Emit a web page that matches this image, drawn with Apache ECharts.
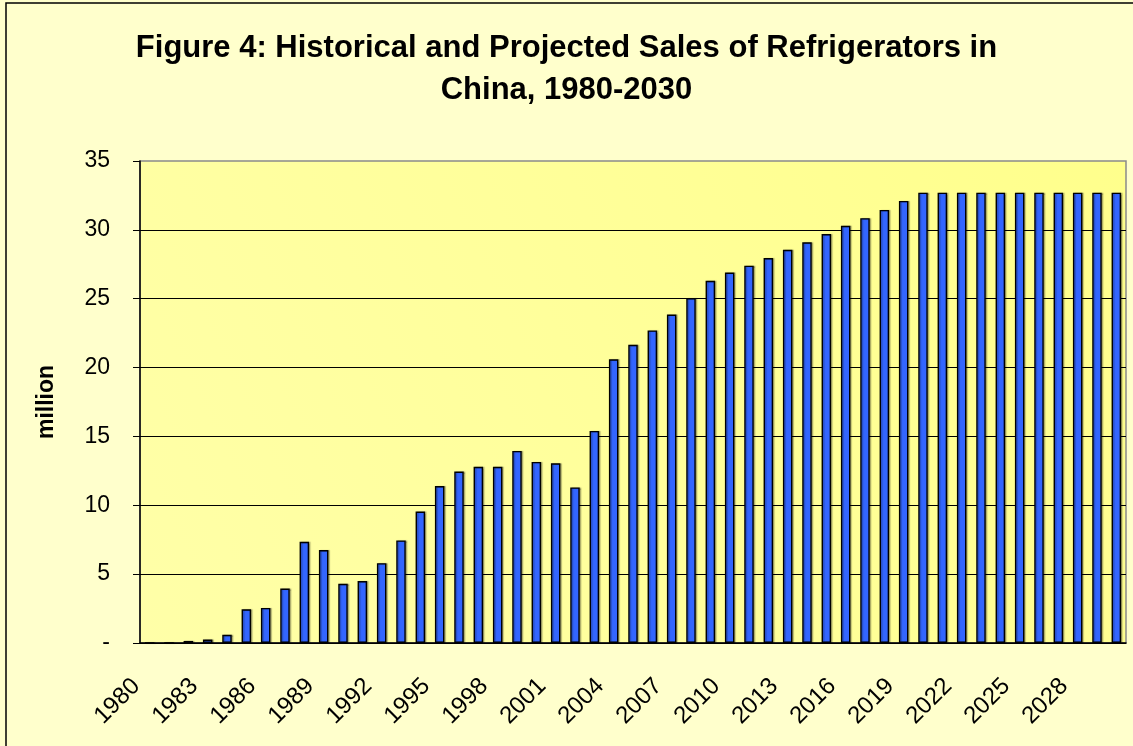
<!DOCTYPE html>
<html>
<head>
<meta charset="utf-8">
<title>Refrigerator sales in China</title>
<script src="https://cdn.jsdelivr.net/npm/echarts@6/dist/echarts.min.js"></script>
<style>
  html, body { margin: 0; padding: 0; background: #FFFFCC; }
  #chart { width: 1133px; height: 746px; }
</style>
</head>
<body>
<div id="chart"></div>
<script>
// categories: one bar per year
var years = [
  '1980', '1981', '1982', '1983', '1984', '1985', '1986', '1987', '1988', '1989',
  '1990', '1991', '1992', '1993', '1994', '1995', '1996', '1997', '1998', '1999',
  '2000', '2001', '2002', '2003', '2004', '2005', '2006', '2007', '2008', '2009',
  '2010', '2011', '2012', '2013', '2014', '2015', '2016', '2017', '2018', '2019',
  '2020', '2021', '2022', '2023', '2024', '2025', '2026', '2027', '2028', '2029',
  '2030'
]

// sales, million units
var sales = [
  0, 0, 0.15, 0.25, 0.6, 2.45, 2.55, 3.95, 7.35, 6.75,
  4.3, 4.5, 5.8, 7.45, 9.55, 11.4, 12.45, 12.8, 12.8, 13.95,
  13.15, 13.05, 11.3, 15.4, 20.6, 21.65, 22.7, 23.85, 25.05, 26.3,
  26.9, 27.4, 27.95, 28.55, 29.1, 29.7, 30.3, 30.85, 31.45, 32.1,
  32.7, 32.7, 32.7, 32.7, 32.7, 32.7, 32.7, 32.7, 32.7, 32.7,
  32.7
]

var titleText = 'Figure 4: Historical and Projected Sales of Refrigerators in\nChina, 1980-2030'
var yName = 'million'

var font = '"Liberation Sans", Arial, sans-serif'

var chart = echarts.init(document.getElementById('chart'))

chart.setOption({
  backgroundColor: '#FFFFCC',
  animation: false,
  title: {
    text: titleText,
    left: 'center',
    top: 22,
    textStyle: {
      fontFamily: font,
      fontSize: 31,
      fontWeight: 'bold',
      lineHeight: 42,
      color: '#000'
    }
  },
  graphic: [{
    type: 'rect',
    z: 100,
    shape: { x: 6, y: 3, width: 1300, height: 900 },
    style: { fill: 'none', stroke: '#000', lineWidth: 1.5 }
  }],
  grid: {
    left: 140,
    right: 7,
    top: 161,
    bottom: 103,
    show: true,
    borderColor: '#8a8a8a',
    borderWidth: 1.5,
    backgroundColor: new echarts.graphic.LinearGradient(1, 0, 0, 1, [
      { offset: 0, color: '#FFFF8C' },
      { offset: 1, color: '#FFFFA8' }
    ])
  },
  xAxis: {
    type: 'category',
    data: years,
    boundaryGap: true,
    axisLine: { lineStyle: { color: '#000', width: 1.5 } },
    axisTick: { interval: 0, length: 8, lineStyle: { color: '#000', width: 1 } },
    axisLabel: {
      interval: 2,
      rotate: 45,
      margin: 26,
      padding: [0, 19, 0, 0],
      fontFamily: font,
      fontSize: 24,
      color: '#000'
    },
    splitLine: { show: false }
  },
  yAxis: {
    type: 'value',
    min: 0,
    max: 35,
    interval: 5,
    name: yName,
    nameLocation: 'middle',
    nameGap: 82,
    nameTextStyle: {
      fontFamily: font,
      fontSize: 23,
      fontWeight: 'bold',
      color: '#000'
    },
    axisLine: { show: true, lineStyle: { color: '#000', width: 1.5 } },
    axisTick: { show: true, length: 7, lineStyle: { color: '#000', width: 1 } },
    axisLabel: {
      margin: 30,
      fontFamily: font,
      fontSize: 23,
      color: '#000',
      formatter: function (v) { return v === 0 ? '-' : v }
    },
    splitLine: { showMaxLine: false, lineStyle: { color: '#000', width: 1 } }
  },
  series: [{
    type: 'bar',
    data: sales,
    barWidth: 9.5,
    itemStyle: {
      color: '#3366FF',
      borderColor: '#000',
      borderWidth: 1.4,
      shadowColor: 'rgba(0,0,0,0.25)',
      shadowOffsetX: 1.5,
      shadowOffsetY: 0,
      shadowBlur: 1
    }
  }]
})
</script>
</body>
</html>
